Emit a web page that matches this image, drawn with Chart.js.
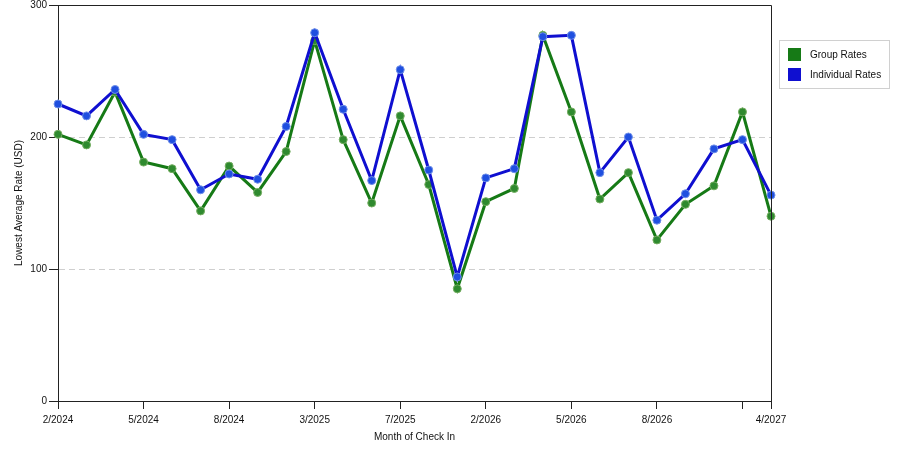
<!DOCTYPE html>
<html>
<head>
<meta charset="utf-8">
<script src="https://cdn.jsdelivr.net/npm/chart.js@4.4.1/dist/chart.umd.min.js"></script>
<style>
  html, body { margin: 0; padding: 0; background: #fff; }
  #wrap { width: 900px; height: 450px; position: relative; }
</style>
</head>
<body>
<div id="wrap"><canvas id="myChart" width="900" height="450"></canvas></div>
<script>
// Months that have data (only every third one gets a label)
const months = ['2/2024', '3/2024', '4/2024', '5/2024', '6/2024', '7/2024', '8/2024', '10/2024', '12/2024',
    '3/2025', '4/2025', '5/2025', '7/2025', '9/2025', '11/2025', '2/2026', '3/2026', '4/2026', '5/2026',
    '6/2026', '7/2026', '8/2026', '10/2026', '12/2026', '2/2027', '4/2027'];
const labeledIdx = [0, 3, 6, 9, 12, 15, 18, 21, 25];
const tickOnlyIdx = [24];

const groupRates = [202, 194, 234, 181, 176, 144, 178, 158, 189, 273, 198, 150, 216, 164, 85, 151, 161, 277,
    219, 153, 173, 122, 149, 163, 219, 140];
const individualRates = [225, 216, 236, 202, 198, 160, 172, 168, 208, 279, 221, 167, 251, 175, 94, 169, 176, 276,
    277, 173, 200, 137, 157, 191, 198, 156];

const yTicks = [0, 100, 200, 300];

Chart.defaults.font.family = '"Liberation Sans", Arial, sans-serif';
Chart.defaults.font.size = 10;
Chart.defaults.color = '#222';

// Frame around the plot and the boxed legend on the right
const framePlugin = {
    id: 'frame',
    afterDraw(chart) {
        const { ctx, chartArea } = chart;
        ctx.save();
        ctx.strokeStyle = '#222';
        ctx.lineWidth = 1;
        ctx.beginPath();
        ctx.moveTo(Math.round(chartArea.left) + 0.5, Math.round(chartArea.top) + 0.5);
        ctx.lineTo(Math.round(chartArea.right) + 0.5, Math.round(chartArea.top) + 0.5);
        ctx.lineTo(Math.round(chartArea.right) + 0.5, Math.round(chartArea.bottom) + 0.5);
        ctx.stroke();

        // legend
        const lx = chartArea.right + 8, ly = 40;
        ctx.strokeStyle = '#d0d0d0';
        ctx.strokeRect(lx + 0.5, ly + 0.5, 110, 48);
        ctx.font = '10px "Liberation Sans", Arial, sans-serif';
        ctx.textBaseline = 'middle';
        chart.data.datasets.forEach(function(ds, i) {
            const y = ly + 8 + i * 20;
            ctx.fillStyle = ds.borderColor;
            ctx.fillRect(lx + 9, y, 13, 13);
            ctx.fillStyle = '#111';
            ctx.fillText(ds.label, lx + 31, y + 7);
        });
        ctx.restore();
    }
};

const ctx = document.getElementById('myChart').getContext('2d');
const myChart = new Chart(ctx, {
    type: 'line',
    data: {
        labels: months,
        datasets: [{
            label: 'Group Rates',
            data: groupRates,
            borderColor: '#167a16',
            backgroundColor: '#167a16',
            borderWidth: 3,
            pointRadius: 4,
            pointBackgroundColor: '#2f8a2f',
            pointBorderColor: '#74ad60',
            pointBorderWidth: 1,
            order: 1
        }, {
            label: 'Individual Rates',
            data: individualRates,
            borderColor: '#0f0fd0',
            backgroundColor: '#0f0fd0',
            borderWidth: 3,
            pointRadius: 4,
            pointBackgroundColor: '#1f4fe0',
            pointBorderColor: '#6f8fe8',
            pointBorderWidth: 1,
            order: 0
        }]
    },
    options: {
        responsive: false,
        animation: false,
        layout: { padding: { top: 5, right: 129, left: 0, bottom: 0 } },
        plugins: {
            legend: { display: false },
            tooltip: { enabled: false }
        },
        scales: {
            x: {
                offset: false,
                afterFit: function(scale) { scale.height = 49; },
                title: {
                    display: true,
                    text: 'Month of Check In',
                    color: '#111',
                    padding: { top: 0, bottom: 7 }
                },
                ticks: {
                    autoSkip: false,
                    maxRotation: 0,
                    padding: 5,
                    color: '#111',
                    callback: function(value, index) {
                        if (labeledIdx.includes(index)) return months[index];
                        if (tickOnlyIdx.includes(index)) return '';
                        return null;
                    }
                },
                grid: {
                    drawOnChartArea: false,
                    drawTicks: true,
                    tickLength: 8,
                    color: '#222',
                    tickColor: '#222'
                },
                border: { color: '#222', width: 1 }
            },
            y: {
                min: 0,
                max: 300,
                afterFit: function(scale) {
                    scale.width = 58;
                    scale.paddingTop = 0;
                    scale.paddingBottom = 0;
                },
                afterBuildTicks: function(scale) {
                    scale.ticks = yTicks.map(v => ({ value: v }));
                },
                title: {
                    display: true,
                    text: 'Lowest Average Rate (USD)',
                    color: '#111',
                    padding: { top: 13, bottom: 4 }
                },
                ticks: {
                    padding: 2,
                    color: '#111'
                },
                grid: {
                    tickLength: 9,
                    tickColor: '#222',
                    tickBorderDash: [],
                    color: function(c) {
                        const v = c.tick ? c.tick.value : null;
                        return (v === 100 || v === 200) ? '#cfcfcf' : 'rgba(0,0,0,0)';
                    }
                },
                border: { color: '#222', width: 1, dash: [6, 4] }
            }
        }
    },
    plugins: [framePlugin]
});
</script>
</body>
</html>
